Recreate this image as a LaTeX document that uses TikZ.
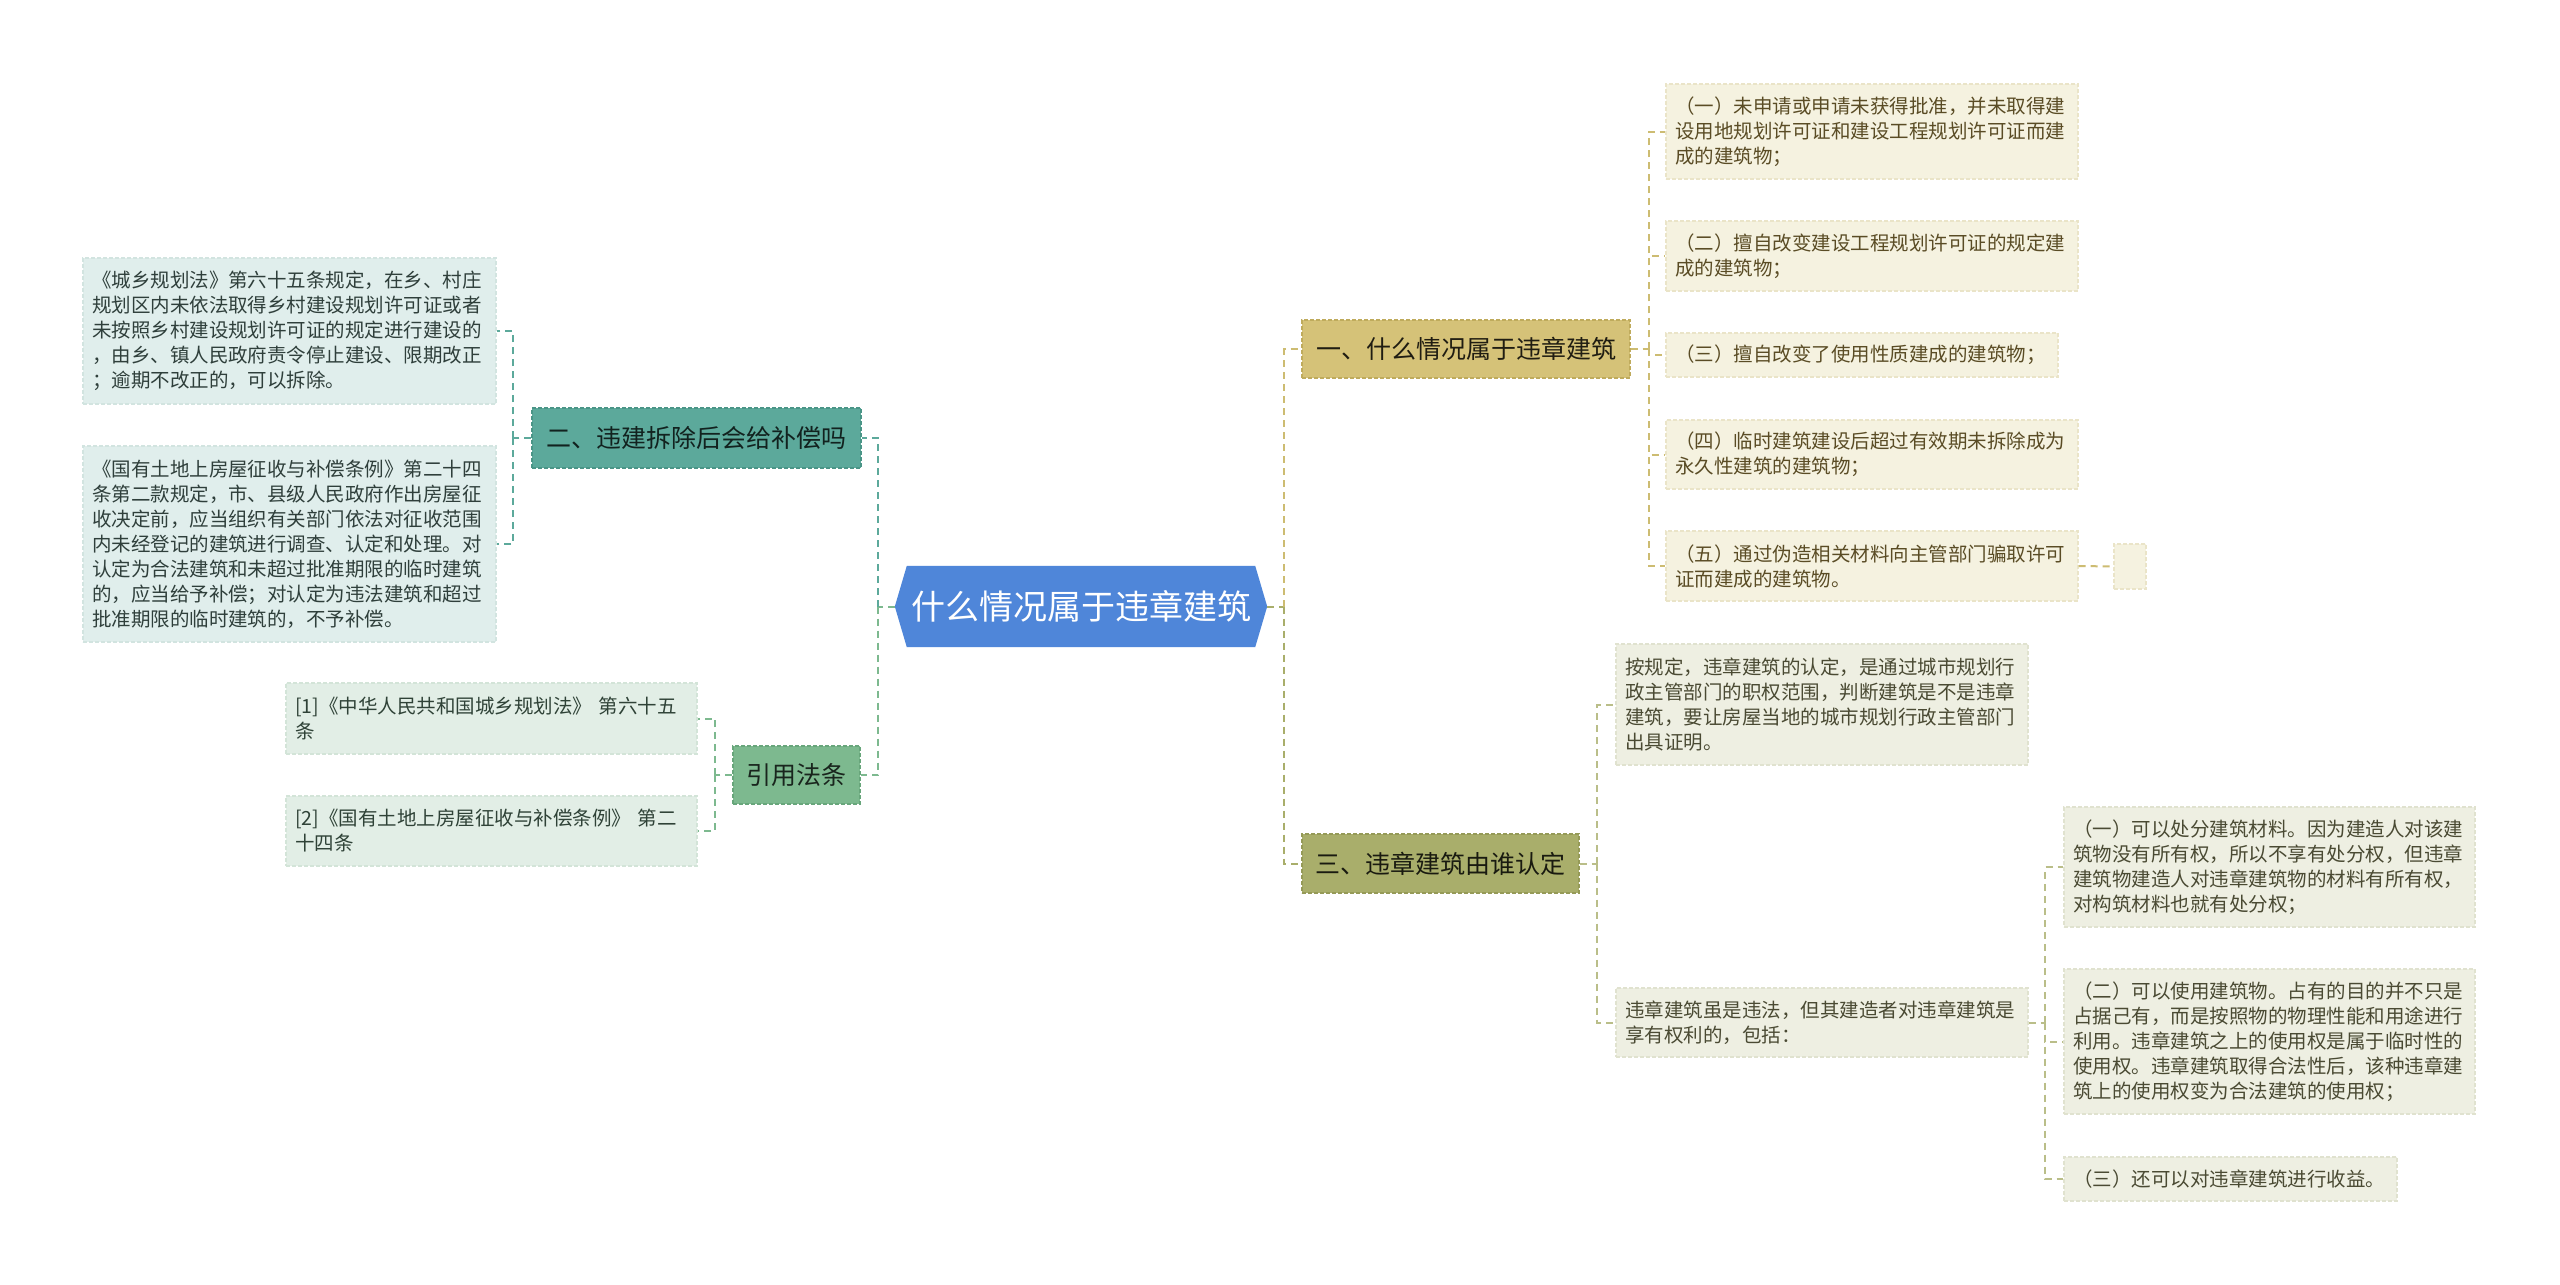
\documentclass[tikz,border=0pt]{standalone}
\usepackage{fontspec}
\newfontfamily\cjk{Noto Sans CJK SC}
\usetikzlibrary{backgrounds}
\definecolor{blueF}{HTML}{4F86D9}
\definecolor{goldF}{HTML}{D5C278}
\definecolor{goldD}{HTML}{BFAB5C}
\definecolor{goldL}{HTML}{CDBC72}
\definecolor{creamF}{HTML}{F5F2E0}
\definecolor{creamD}{HTML}{EAE4C8}
\definecolor{creamT}{HTML}{5A4C25}
\definecolor{tealF}{HTML}{5CA99B}
\definecolor{tealD}{HTML}{4A9587}
\definecolor{tealL}{HTML}{5CA99B}
\definecolor{lteaF}{HTML}{E0EEEC}
\definecolor{lteaD}{HTML}{D2E4E0}
\definecolor{lteaT}{HTML}{2F3F3B}
\definecolor{greenF}{HTML}{7DB98F}
\definecolor{greenD}{HTML}{68A67B}
\definecolor{greenL}{HTML}{7DB98F}
\definecolor{lgrF}{HTML}{E2EEE6}
\definecolor{lgrD}{HTML}{D3E4D8}
\definecolor{lgrT}{HTML}{2F4237}
\definecolor{oliveF}{HTML}{A9AE6B}
\definecolor{oliveD}{HTML}{959A57}
\definecolor{oliveL}{HTML}{A9AE6B}
\definecolor{lolF}{HTML}{EEEFE2}
\definecolor{lolD}{HTML}{E0E2CF}
\definecolor{lolT}{HTML}{4A4A33}
\tikzset{
  x=1pt, y=-1pt,
  base/.style={inner ysep=0pt, inner xsep=9pt, align=left, anchor=center,
    line width=1.2pt, dash pattern=on 4pt off 2pt},
  small/.style={base, font=\cjk\fontsize{19.5}{25}\selectfont},
  branch/.style={base, inner xsep=0pt, align=center, font=\cjk\fontsize{25}{30}\selectfont},
  cbox/.style={small, fill=creamF, draw=creamD, text=creamT},
  lbox/.style={small, fill=lteaF, draw=lteaD, text=lteaT},
  rbox/.style={small, fill=lgrF, draw=lgrD, text=lgrT},
  obox/.style={small, fill=lolF, draw=lolD, text=lolT},
  link/.style={line width=2pt, dash pattern=on 7pt off 5pt},
}
\begin{document}
\begin{tikzpicture}
\useasboundingbox (0,0) rectangle (2560,1285);

% central topic
\node[inner sep=0pt, minimum width=372pt, minimum height=81pt, text=white,
  font=\cjk\fontsize{34}{40}\selectfont] (c) at (1081,606.5) {什么情况属于违章建筑};
\begin{scope}[on background layer]
\fill[white] (0,0) rectangle (2560,1285);
\fill[blueF] (c.west) -- ([xshift=12pt]c.north west) -- ([xshift=-12pt]c.north east)
  -- (c.east) -- ([xshift=-12pt]c.south east) -- ([xshift=12pt]c.south west) -- cycle;
\end{scope}

% branch nodes
\node[branch, fill=goldF, draw=goldD, text=black!85!goldF, minimum width=328pt, minimum height=58pt] (b1) at (1466,349) {一、什么情况属于违章建筑};
\node[branch, fill=oliveF, draw=oliveD, text=black!85!oliveF, minimum width=277pt, minimum height=59pt] (b3) at (1440.5,863.5) {三、违章建筑由谁认定};
\node[branch, fill=tealF, draw=tealD, text=black!80!tealF, minimum width=329pt, minimum height=60pt] (b2) at (696.5,438) {二、违建拆除后会给补偿吗};
\node[branch, fill=greenF, draw=greenD, text=black!80!greenF, minimum width=127pt, minimum height=58pt] (b4) at (796.5,775) {引用法条};

% branch 1 children
\node[cbox, text width=394pt, minimum height=95pt] (c1) at (1872,131.5) {（一）未申请或申请未获得批准，并未取得建\\设用地规划许可证和建设工程规划许可证而建\\成的建筑物；};
\node[cbox, text width=394pt, minimum height=70pt] (c2) at (1872,256) {（二）擅自改变建设工程规划许可证的规定建\\成的建筑物；};
\node[cbox, text width=374pt, minimum height=44pt] (c3) at (1862,355) {（三）擅自改变了使用性质建成的建筑物；};
\node[cbox, text width=394pt, minimum height=69pt] (c4) at (1872,454.5) {（四）临时建筑建设后超过有效期未拆除成为\\永久性建筑的建筑物；};
\node[cbox, text width=394pt, minimum height=70pt] (c5) at (1872,566) {（五）通过伪造相关材料向主管部门骗取许可\\证而建成的建筑物。};
\node[small, fill=creamF, draw=creamD, inner xsep=0pt, minimum width=32pt, minimum height=45pt] (e5) at (2130,566.5) {};

% branch 3 children
\node[obox, text width=394pt, minimum height=121pt] (d1) at (1822,704.5) {按规定，违章建筑的认定，是通过城市规划行\\政主管部门的职权范围，判断建筑是不是违章\\建筑，要让房屋当地的城市规划行政主管部门\\出具证明。};
\node[obox, text width=394pt, minimum height=69pt] (d2) at (1822,1022.5) {违章建筑虽是违法，但其建造者对违章建筑是\\享有权利的，包括：};
\node[obox, text width=393pt, minimum height=120pt] (f1) at (2269.5,867) {（一）可以处分建筑材料。因为建造人对该建\\筑物没有所有权，所以不享有处分权，但违章\\建筑物建造人对违章建筑物的材料有所有权，\\对构筑材料也就有处分权；};
\node[obox, text width=393pt, minimum height=145pt] (f2) at (2269.5,1041.5) {（二）可以使用建筑物。占有的目的并不只是\\占据己有，而是按照物的物理性能和用途进行\\利用。违章建筑之上的使用权是属于临时性的\\使用权。违章建筑取得合法性后，该种违章建\\筑上的使用权变为合法建筑的使用权；};
\node[obox, text width=315pt, minimum height=44pt] (f3) at (2230.5,1179) {（三）还可以对违章建筑进行收益。};

% branch 2 children
\node[lbox, text width=395pt, minimum height=146pt] (l1) at (289.5,331) {《城乡规划法》第六十五条规定，在乡、村庄\\规划区内未依法取得乡村建设规划许可证或者\\未按照乡村建设规划许可证的规定进行建设的\\，由乡、镇人民政府责令停止建设、限期改正\\；逾期不改正的，可以拆除。};
\node[lbox, text width=395pt, minimum height=196pt] (l2) at (289.5,544) {《国有土地上房屋征收与补偿条例》第二十四\\条第二款规定，市、县级人民政府作出房屋征\\收决定前，应当组织有关部门依法对征收范围\\内未经登记的建筑进行调查、认定和处理。对\\认定为合法建筑和未超过批准期限的临时建筑\\的，应当给予补偿；对认定为违法建筑和超过\\批准期限的临时建筑的，不予补偿。};

% branch 4 children
\node[rbox, text width=393pt, minimum height=71pt] (r1) at (491.5,718.5) {[1]《中华人民共和国城乡规划法》 第六十五\\条};
\node[rbox, text width=393pt, minimum height=70pt] (r2) at (491.5,831) {[2]《国有土地上房屋征收与补偿条例》 第二\\十四条};

% junction coordinates
\coordinate (tr) at (1284,606.5);
\coordinate (tl) at (878,606.5);
\coordinate (v1) at (1649,349);
\coordinate (v3) at (1597,863.5);
\coordinate (v4) at (2045,1022.5);
\coordinate (v2) at (513,438);
\coordinate (v5) at (715,775);

% right connectors
\draw[link, oliveL] (c.east) -- (tr);
\draw[link, goldL] (tr) |- (b1.west);
\draw[link, oliveL] (tr) |- (b3.west);
\draw[link, goldL] (b1.east) -- (v1);
\foreach \n in {c1,c2,c3,c4,c5} \draw[link, goldL] (v1) |- (\n.west);
\draw[link, goldL] (c5.east) -- (e5.west);
\draw[link, oliveL!80] (b3.east) -- (v3);
\foreach \n in {d1,d2} \draw[link, oliveL!80] (v3) |- (\n.west);
\draw[link, oliveL!80] (d2.east) -- (v4);
\foreach \n in {f1,f2,f3} \draw[link, oliveL!80] (v4) |- (\n.west);

% left connectors
\draw[link, greenL] (c.west) -- (tl);
\draw[link, tealL] (tl) |- (b2.east);
\draw[link, greenL] (tl) |- (b4.east);
\draw[link, tealL] (b2.west) -- (v2);
\foreach \n in {l1,l2} \draw[link, tealL] (v2) |- (\n.east);
\draw[link, greenL] (b4.west) -- (v5);
\foreach \n in {r1,r2} \draw[link, greenL] (v5) |- (\n.east);
\end{tikzpicture}
\end{document}
